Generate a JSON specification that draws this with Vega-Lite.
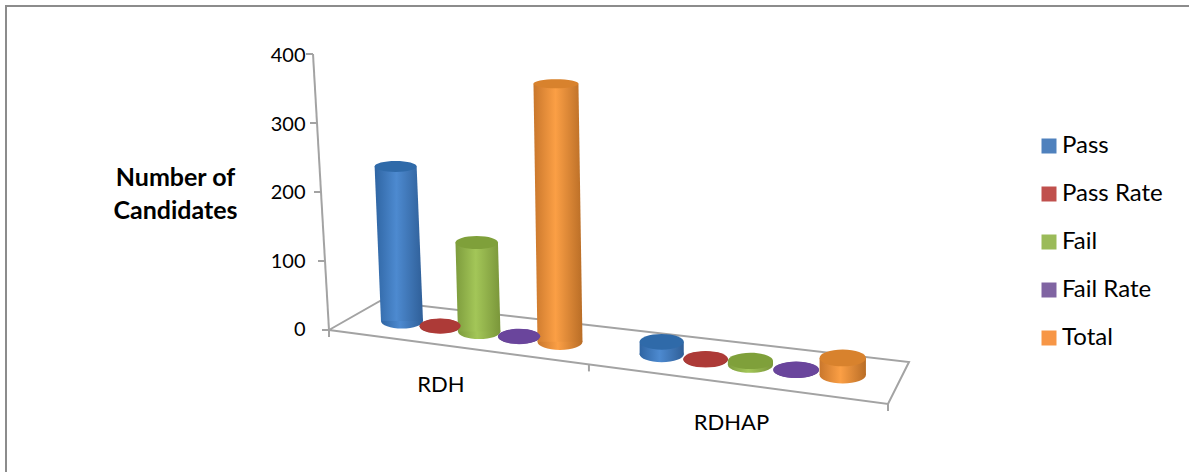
{"$schema":"https://vega.github.io/schema/vega-lite/v6.json","width":1190,"height":470,"autosize":{"type":"none"},"padding":{"left":6,"top":6,"right":0,"bottom":0},"background":"white","view":{"stroke":"#8c8c8c","strokeWidth":2},"config":{"font":"Lato"},"datasets":{"candidates":[{"group":"RDH","series":"Pass","value":236},{"group":"RDH","series":"Pass Rate","value":0.64},{"group":"RDH","series":"Fail","value":131},{"group":"RDH","series":"Fail Rate","value":0.36},{"group":"RDH","series":"Total","value":367},{"group":"RDHAP","series":"Pass","value":17},{"group":"RDHAP","series":"Pass Rate","value":0.77},{"group":"RDHAP","series":"Fail","value":5},{"group":"RDHAP","series":"Fail Rate","value":0.23},{"group":"RDHAP","series":"Total","value":22}],"frame":[{"edge":"floor","seq":0,"along":0,"depth":0,"height":0,"out":0,"down":0},{"edge":"floor","seq":1,"along":1,"depth":0,"height":0,"out":0,"down":0},{"edge":"floor","seq":2,"along":1,"depth":1,"height":0,"out":0,"down":0},{"edge":"floor","seq":3,"along":0,"depth":1,"height":0,"out":0,"down":0},{"edge":"floor","seq":4,"along":0,"depth":0,"height":0,"out":0,"down":0},{"edge":"wall","seq":0,"along":0,"depth":0,"height":0,"out":0,"down":0},{"edge":"wall","seq":1,"along":0,"depth":0,"height":400,"out":0,"down":0},{"edge":"y0","seq":0,"along":0,"depth":0,"height":0,"out":0,"down":0},{"edge":"y0","seq":1,"along":0,"depth":0,"height":0,"out":1,"down":0},{"edge":"y100","seq":0,"along":0,"depth":0,"height":100,"out":0,"down":0},{"edge":"y100","seq":1,"along":0,"depth":0,"height":100,"out":1,"down":0},{"edge":"y200","seq":0,"along":0,"depth":0,"height":200,"out":0,"down":0},{"edge":"y200","seq":1,"along":0,"depth":0,"height":200,"out":1,"down":0},{"edge":"y300","seq":0,"along":0,"depth":0,"height":300,"out":0,"down":0},{"edge":"y300","seq":1,"along":0,"depth":0,"height":300,"out":1,"down":0},{"edge":"y400","seq":0,"along":0,"depth":0,"height":400,"out":0,"down":0},{"edge":"y400","seq":1,"along":0,"depth":0,"height":400,"out":1,"down":0},{"edge":"x0","seq":0,"along":0,"depth":0,"height":0,"out":0,"down":0},{"edge":"x0","seq":1,"along":0,"depth":0,"height":0,"out":0,"down":1},{"edge":"x1","seq":0,"along":0.465,"depth":0,"height":0,"out":0,"down":0},{"edge":"x1","seq":1,"along":0.465,"depth":0,"height":0,"out":0,"down":1},{"edge":"x2","seq":0,"along":1,"depth":0,"height":0,"out":0,"down":0},{"edge":"x2","seq":1,"along":1,"depth":0,"height":0,"out":0,"down":1}],"categories":[{"label":"RDH","along":0.2},{"label":"RDHAP","along":0.72}]},"layer":[{"data":{"name":"frame"},"transform":[{"calculate":"(1-datum.along)*(1-datum.depth)*329+datum.along*(1-datum.depth)*888+datum.along*datum.depth*909+(1-datum.along)*datum.depth*380-16*datum.height/400-7*datum.out","as":"sx"},{"calculate":"(1-datum.along)*(1-datum.depth)*330+datum.along*(1-datum.depth)*404+datum.along*datum.depth*362+(1-datum.along)*datum.depth*301-0.69*datum.height+7*datum.down","as":"py"},{"calculate":"(330-datum.py)/0.685","as":"sy"}],"mark":{"type":"line","stroke":"#a3a3a3","strokeWidth":2},"encoding":{"x":{"field":"sx","type":"quantitative","scale":{"domain":[6,1196],"nice":false,"zero":false},"axis":null},"y":{"field":"sy","type":"quantitative","scale":{"domain":[-213.14,472.99],"nice":false,"zero":false},"axis":{"values":[0,100,200,300,400],"grid":false,"domain":false,"ticks":false,"offset":-299,"labelPadding":0,"labelFontSize":20,"labelColor":"#000000","labelFont":"Lato","title":["Number of","Candidates"],"titleFont":"Lato","titleFontSize":25,"titleFontWeight":"bold","titleColor":"#000000","titleAngle":0,"titleAlign":"center","titleBaseline":"middle","titleX":-130,"titleY":171,"titleLineHeight":33}},"detail":{"field":"edge"},"order":{"field":"seq","type":"quantitative"}}},{"data":{"name":"categories"},"transform":[{"calculate":"(1-datum.along)*329+datum.along*888","as":"sx"},{"calculate":"(1-datum.along)*330+datum.along*404+40","as":"py"},{"calculate":"(330-datum.py)/0.685","as":"sy"}],"mark":{"type":"text","fontSize":22,"font":"Lato","color":"#000000","align":"center","baseline":"middle"},"encoding":{"x":{"field":"sx","type":"quantitative","scale":{"domain":[6,1196],"nice":false,"zero":false},"axis":null},"y":{"field":"sy","type":"quantitative"},"text":{"field":"label"}}},{"data":{"name":"candidates"},"transform":[{"calculate":"indexof(['Pass','Pass Rate','Fail','Fail Rate','Total'],datum.series)+(datum.group==='RDHAP'?6.4:0)","as":"s"},{"calculate":"402+37.7*datum.s+0.45*datum.s*datum.s","as":"cx"},{"calculate":"13.1-7.59*datum.s","as":"baseV"},{"calculate":"datum.baseV+datum.value*(0.655+0.012*datum.s)/0.685","as":"topV"},{"calculate":"min(0,-0.027+0.004*datum.s)*datum.value","as":"slant"},{"calculate":"20.3+0.27*datum.s+0.003*datum.value","as":"hw"},{"calculate":"datum.group+'|'+datum.series","as":"key"},{"calculate":"0","as":"baseEnd"},{"calculate":"1","as":"topEnd"},{"fold":["baseEnd","topEnd"],"as":["end","h"]},{"calculate":"datum.cx+datum.h*datum.slant","as":"cxh"},{"calculate":"datum.cxh-datum.hw","as":"xL"},{"calculate":"datum.cxh+datum.hw","as":"xR"},{"calculate":"datum.baseV+datum.h*(datum.topV-datum.baseV)","as":"sy"},{"calculate":"4*datum.hw*datum.hw","as":"capSize"},{"calculate":"datum.value>300?'a':(datum.value>200?'b':(datum.value>100?'c':'d'))","as":"capClass"}],"encoding":{"y":{"field":"sy","type":"quantitative"}},"layer":[{"transform":[{"filter":"datum.h===0&&datum.series==='Pass'"}],"mark":{"type":"point","filled":true,"opacity":1,"shape":"M-1,0A1,0.36 0 1 1 1,0A1,0.36 0 1 1 -1,0Z","fill":{"gradient":"linear","x1":0,"y1":0,"x2":1,"y2":0,"stops":[{"offset":0,"color":"#2f65a3"},{"offset":0.45,"color":"#4d8ad0"},{"offset":1,"color":"#2f5f98"}]}},"encoding":{"x":{"field":"cxh","type":"quantitative","scale":{"domain":[6,1196],"nice":false,"zero":false},"axis":null},"size":{"field":"capSize","type":"quantitative","scale":null,"legend":null}}},{"transform":[{"filter":"datum.series==='Pass'"}],"mark":{"type":"area","orient":"horizontal","opacity":1,"fill":{"gradient":"linear","x1":0,"y1":0,"x2":1,"y2":0,"stops":[{"offset":0,"color":"#2f65a3"},{"offset":0.45,"color":"#4d8ad0"},{"offset":1,"color":"#2f5f98"}]}},"encoding":{"x":{"field":"xL","type":"quantitative","scale":{"domain":[6,1196],"nice":false,"zero":false},"axis":null},"x2":{"field":"xR"},"detail":{"field":"key"}}},{"transform":[{"filter":"datum.h===0&&datum.series==='Pass Rate'"}],"mark":{"type":"point","filled":true,"opacity":1,"shape":"M-1,0A1,0.36 0 1 1 1,0A1,0.36 0 1 1 -1,0Z","fill":{"gradient":"linear","x1":0,"y1":0,"x2":1,"y2":0,"stops":[{"offset":0,"color":"#8f2f2c"},{"offset":0.45,"color":"#c04a46"},{"offset":1,"color":"#8f2f2c"}]}},"encoding":{"x":{"field":"cxh","type":"quantitative","scale":{"domain":[6,1196],"nice":false,"zero":false},"axis":null},"size":{"field":"capSize","type":"quantitative","scale":null,"legend":null}}},{"transform":[{"filter":"datum.h===0&&datum.series==='Fail'"}],"mark":{"type":"point","filled":true,"opacity":1,"shape":"M-1,0A1,0.36 0 1 1 1,0A1,0.36 0 1 1 -1,0Z","fill":{"gradient":"linear","x1":0,"y1":0,"x2":1,"y2":0,"stops":[{"offset":0,"color":"#7d9c3d"},{"offset":0.45,"color":"#a3c658"},{"offset":1,"color":"#7a963a"}]}},"encoding":{"x":{"field":"cxh","type":"quantitative","scale":{"domain":[6,1196],"nice":false,"zero":false},"axis":null},"size":{"field":"capSize","type":"quantitative","scale":null,"legend":null}}},{"transform":[{"filter":"datum.series==='Fail'"}],"mark":{"type":"area","orient":"horizontal","opacity":1,"fill":{"gradient":"linear","x1":0,"y1":0,"x2":1,"y2":0,"stops":[{"offset":0,"color":"#7d9c3d"},{"offset":0.45,"color":"#a3c658"},{"offset":1,"color":"#7a963a"}]}},"encoding":{"x":{"field":"xL","type":"quantitative","scale":{"domain":[6,1196],"nice":false,"zero":false},"axis":null},"x2":{"field":"xR"},"detail":{"field":"key"}}},{"transform":[{"filter":"datum.h===0&&datum.series==='Fail Rate'"}],"mark":{"type":"point","filled":true,"opacity":1,"shape":"M-1,0A1,0.36 0 1 1 1,0A1,0.36 0 1 1 -1,0Z","fill":{"gradient":"linear","x1":0,"y1":0,"x2":1,"y2":0,"stops":[{"offset":0,"color":"#54377f"},{"offset":0.45,"color":"#7d5aa8"},{"offset":1,"color":"#54377f"}]}},"encoding":{"x":{"field":"cxh","type":"quantitative","scale":{"domain":[6,1196],"nice":false,"zero":false},"axis":null},"size":{"field":"capSize","type":"quantitative","scale":null,"legend":null}}},{"transform":[{"filter":"datum.h===0&&datum.series==='Total'"}],"mark":{"type":"point","filled":true,"opacity":1,"shape":"M-1,0A1,0.36 0 1 1 1,0A1,0.36 0 1 1 -1,0Z","fill":{"gradient":"linear","x1":0,"y1":0,"x2":1,"y2":0,"stops":[{"offset":0,"color":"#c9772c"},{"offset":0.45,"color":"#fb9f45"},{"offset":1,"color":"#b96d26"}]}},"encoding":{"x":{"field":"cxh","type":"quantitative","scale":{"domain":[6,1196],"nice":false,"zero":false},"axis":null},"size":{"field":"capSize","type":"quantitative","scale":null,"legend":null}}},{"transform":[{"filter":"datum.series==='Total'"}],"mark":{"type":"area","orient":"horizontal","opacity":1,"fill":{"gradient":"linear","x1":0,"y1":0,"x2":1,"y2":0,"stops":[{"offset":0,"color":"#c9772c"},{"offset":0.45,"color":"#fb9f45"},{"offset":1,"color":"#b96d26"}]}},"encoding":{"x":{"field":"xL","type":"quantitative","scale":{"domain":[6,1196],"nice":false,"zero":false},"axis":null},"x2":{"field":"xR"},"detail":{"field":"key"}}},{"transform":[{"filter":"datum.h===1"}],"mark":{"type":"point","filled":true,"opacity":1},"encoding":{"x":{"field":"cxh","type":"quantitative","scale":{"domain":[6,1196],"nice":false,"zero":false},"axis":null},"size":{"field":"capSize","type":"quantitative","scale":null,"legend":null},"shape":{"field":"capClass","type":"nominal","scale":{"domain":["a","b","c","d"],"range":["M-1,0A1,0.2 0 1 1 1,0A1,0.2 0 1 1 -1,0Z","M-1,0A1,0.26 0 1 1 1,0A1,0.26 0 1 1 -1,0Z","M-1,0A1,0.31 0 1 1 1,0A1,0.31 0 1 1 -1,0Z","M-1,0A1,0.36 0 1 1 1,0A1,0.36 0 1 1 -1,0Z"]},"legend":null},"fill":{"field":"series","type":"nominal","legend":null,"scale":{"domain":["Pass","Pass Rate","Fail","Fail Rate","Total"],"range":["#2f6aa9","#ad3a37","#7fa03a","#6a459c","#d8822d"]}}}}]},{"data":{"name":"candidates"},"transform":[{"filter":"false"}],"mark":{"type":"square","filled":true},"encoding":{"fill":{"field":"series","type":"nominal","scale":{"domain":["Pass","Pass Rate","Fail","Fail Rate","Total"],"range":["#4f81bd","#c0504d","#9bbb59","#8064a2","#f79646"]},"legend":{"title":null,"orient":"none","legendX":1031,"legendY":128,"symbolType":"square","symbolSize":225,"symbolStrokeWidth":0,"symbolOpacity":1,"labelFontSize":24,"labelFont":"Lato","labelColor":"#000000","labelOffset":1,"rowPadding":24,"labelLimit":200}}}}],"resolve":{"scale":{"fill":"independent"}}}
